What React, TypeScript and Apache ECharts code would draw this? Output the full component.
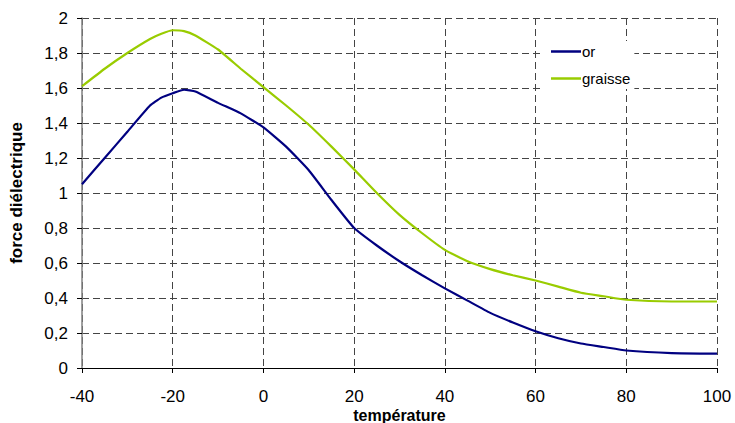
import React, { useEffect, useRef } from "react";
import * as echarts from "echarts";

const temperatures = [-40, -35, -30, -25, -22.5, -20, -17.5, -15, -10, -5, 0, 5, 10, 15, 20, 25, 30, 35, 40, 45, 50, 55, 60, 65, 70, 75, 80, 90, 100];
const orValues = [1.05, 1.2, 1.35, 1.5, 1.545, 1.57, 1.59, 1.58, 1.515, 1.455, 1.375, 1.265, 1.13, 0.96, 0.8, 0.7, 0.61, 0.53, 0.455, 0.385, 0.315, 0.26, 0.21, 0.17, 0.14, 0.12, 0.1, 0.085, 0.082];
const graisseValues = [1.61, 1.71, 1.8, 1.88, 1.91, 1.93, 1.925, 1.9, 1.82, 1.71, 1.605, 1.5, 1.39, 1.265, 1.135, 1.0, 0.875, 0.77, 0.675, 0.61, 0.565, 0.53, 0.5, 0.465, 0.43, 0.41, 0.39, 0.38, 0.38];
const seriesNames = ["or", "graisse"];
const xAxisTitle = "température";
const yAxisTitle = "force diélectrique";

const FONT = "'Liberation Sans', Arial, sans-serif";

export default function App() {
  const ref = useRef<HTMLDivElement>(null);
  useEffect(() => {
    if (!ref.current) return;
    const chart = echarts.init(ref.current, null, { renderer: "svg" });
    const dashed = { color: "#444", type: [7, 4] as any, width: 1 };
    chart.setOption({
      animation: false,
      backgroundColor: "#fff",
      textStyle: { fontFamily: FONT },
      grid: { left: 82, right: 18, top: 18, bottom: 55, containLabel: false, outerBoundsMode: "none" },
      legend: {
        orient: "vertical",
        left: 543,
        top: 41,
        icon: "rect",
        itemWidth: 30,
        itemHeight: 2.5,
        itemGap: 10,
        backgroundColor: "#fff",
        padding: [2, 4, 2, 8],
        textStyle: { fontFamily: FONT, fontSize: 15, color: "#000", padding: [0, 0, 0, -4], height: 17, lineHeight: 17 },
        data: seriesNames,
      },
      xAxis: {
        type: "value",
        min: -40,
        max: 100,
        interval: 20,
        name: xAxisTitle,
        nameLocation: "middle",
        nameGap: 39,
        nameMoveOverlap: false,
        nameTextStyle: { fontFamily: FONT, fontSize: 16, fontWeight: "bold", color: "#000", lineHeight: 16 },
        axisLine: { show: true, onZero: false, lineStyle: { color: "#000", width: 1 } },
        axisTick: { show: true, length: 5, lineStyle: { color: "#000" } },
        axisLabel: { fontFamily: FONT, fontSize: 17, color: "#000", margin: 20 },
        splitLine: { show: true, lineStyle: dashed },
      },
      yAxis: {
        type: "value",
        min: 0,
        max: 2,
        interval: 0.2,
        name: yAxisTitle,
        nameLocation: "middle",
        nameGap: 57,
        nameMoveOverlap: false,
        nameTextStyle: { fontFamily: FONT, fontSize: 17, fontWeight: "bold", color: "#000" },
        axisLine: { show: true, onZero: false, lineStyle: { color: "#808080", width: 1.5 } },
        axisTick: { show: true, length: 5, lineStyle: { color: "#000" } },
        axisLabel: {
          fontFamily: FONT,
          fontSize: 17,
          color: "#000",
          margin: 14,
          formatter: (v: number) => String(Math.round(v * 10) / 10).replace(".", ","),
        },
        splitLine: { show: true, lineStyle: dashed },
      },
      series: [
        {
          name: seriesNames[0],
          type: "line",
          symbol: "none",
          smooth: 0.15,
          data: temperatures.map((t, i) => [t, orValues[i]]),
          lineStyle: { color: "#000080", width: 2.2 },
          itemStyle: { color: "#000080" },
        },
        {
          name: seriesNames[1],
          type: "line",
          symbol: "none",
          smooth: 0.15,
          data: temperatures.map((t, i) => [t, graisseValues[i]]),
          lineStyle: { color: "#99CC00", width: 2.2 },
          itemStyle: { color: "#99CC00" },
        },
      ],
    });
    return () => chart.dispose();
  }, []);
  return <div ref={ref} style={{ width: 735, height: 423, position: "absolute", left: 0, top: 0 }} />;
}
